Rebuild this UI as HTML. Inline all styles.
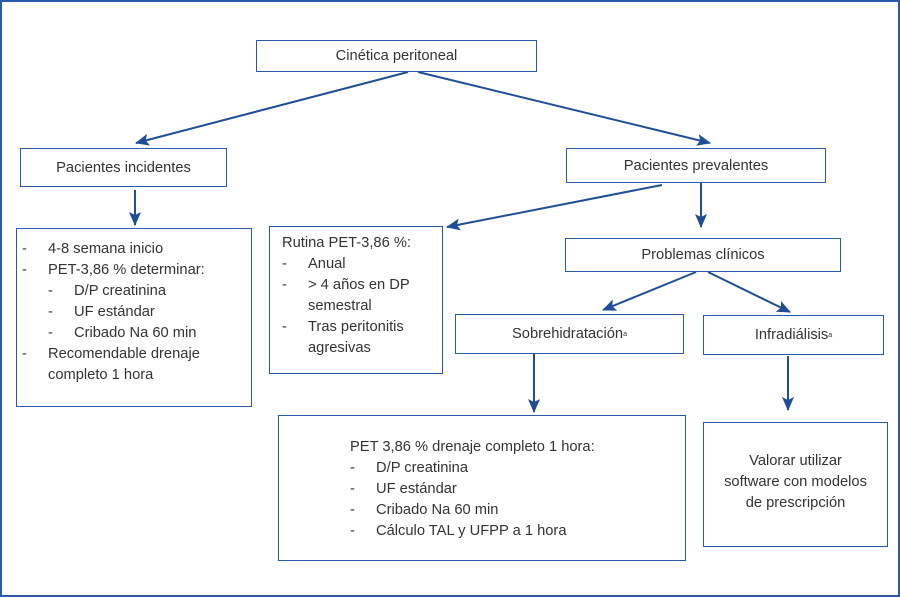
<!DOCTYPE html>
<html><head><meta charset="utf-8"><style>
body{margin:0;width:900px;height:597px;overflow:hidden;background:#fff;font-family:"Liberation Sans",sans-serif;color:#333;}
#f{position:absolute;left:0;top:0;width:896px;height:593px;border:2px solid #2a5aa8;}
.b{position:absolute;border:1.5px solid #2a5aa8;box-sizing:border-box;font-size:14.7px;}
.c{display:flex;align-items:center;justify-content:center;text-align:center;}
.l{line-height:21px;}
.r{display:flex}.r span:first-child{width:26px;flex:none}
</style></head><body>
<div id="f"></div>
<svg width="900" height="597" style="position:absolute;left:0;top:0">
<defs><marker id="a" markerWidth="14" markerHeight="12" refX="13" refY="6" orient="auto" markerUnits="userSpaceOnUse"><path d="M0,0 L14,6 L0,12 L3,6 z" fill="#1f4e96"/></marker></defs>
<g stroke="#1f4e96" stroke-width="2" fill="none" marker-end="url(#a)">
<line x1="408" y1="72" x2="136" y2="143"/>
<line x1="418" y1="72" x2="710" y2="143"/>
<line x1="135" y1="190" x2="135" y2="225"/>
<line x1="701" y1="183" x2="701" y2="227"/>
<line x1="662" y1="185" x2="447" y2="227"/>
<line x1="696" y1="272" x2="603" y2="310"/>
<line x1="708" y1="272" x2="790" y2="312"/>
<line x1="534" y1="354" x2="534" y2="412"/>
<line x1="788" y1="356" x2="788" y2="410"/>
</g></svg>
<div class="b c" style="left:256px;top:40px;width:281px;height:32px">Cinética peritoneal</div>
<div class="b c" style="left:20px;top:148px;width:207px;height:39px">Pacientes incidentes</div>
<div class="b c" style="left:566px;top:148px;width:260px;height:35px">Pacientes prevalentes</div>
<div class="b c" style="left:565px;top:238px;width:276px;height:34px">Problemas clínicos</div>
<div class="b c" style="left:455px;top:314px;width:229px;height:40px">Sobrehidratación<sup style="font-size:7px">a</sup></div>
<div class="b c" style="left:703px;top:315px;width:181px;height:40px">Infradiálisis<sup style="font-size:7px">a</sup></div>
<div class="b l" style="left:16px;top:228px;width:236px;height:179px;padding:10px 0 0 5px">
<div class="r"><span>-</span><span>4-8 semana inicio</span></div>
<div class="r"><span>-</span><span>PET-3,86 % determinar:</span></div>
<div class="r" style="padding-left:26px"><span>-</span><span>D/P creatinina</span></div>
<div class="r" style="padding-left:26px"><span>-</span><span>UF estándar</span></div>
<div class="r" style="padding-left:26px"><span>-</span><span>Cribado Na 60 min</span></div>
<div class="r"><span>-</span><span>Recomendable drenaje<br>completo 1 hora</span></div>
</div>
<div class="b l" style="left:269px;top:226px;width:174px;height:148px;padding:6px 0 0 12px">
<div>Rutina PET-3,86 %:</div>
<div class="r"><span>-</span><span>Anual</span></div>
<div class="r"><span>-</span><span>&gt; 4 años en DP<br>semestral</span></div>
<div class="r"><span>-</span><span>Tras peritonitis<br>agresivas</span></div>
</div>
<div class="b l" style="left:278px;top:415px;width:408px;height:146px;padding:21px 0 0 71px">
<div>PET 3,86 % drenaje completo 1 hora:</div>
<div class="r"><span>-</span><span>D/P creatinina</span></div>
<div class="r"><span>-</span><span>UF estándar</span></div>
<div class="r"><span>-</span><span>Cribado Na 60 min</span></div>
<div class="r"><span>-</span><span>Cálculo TAL y UFPP a 1 hora</span></div>
</div>
<div class="b l" style="left:703px;top:422px;width:185px;height:125px;text-align:center;padding-top:28px">Valorar utilizar<br>software con modelos<br>de prescripción</div>
</body></html>
